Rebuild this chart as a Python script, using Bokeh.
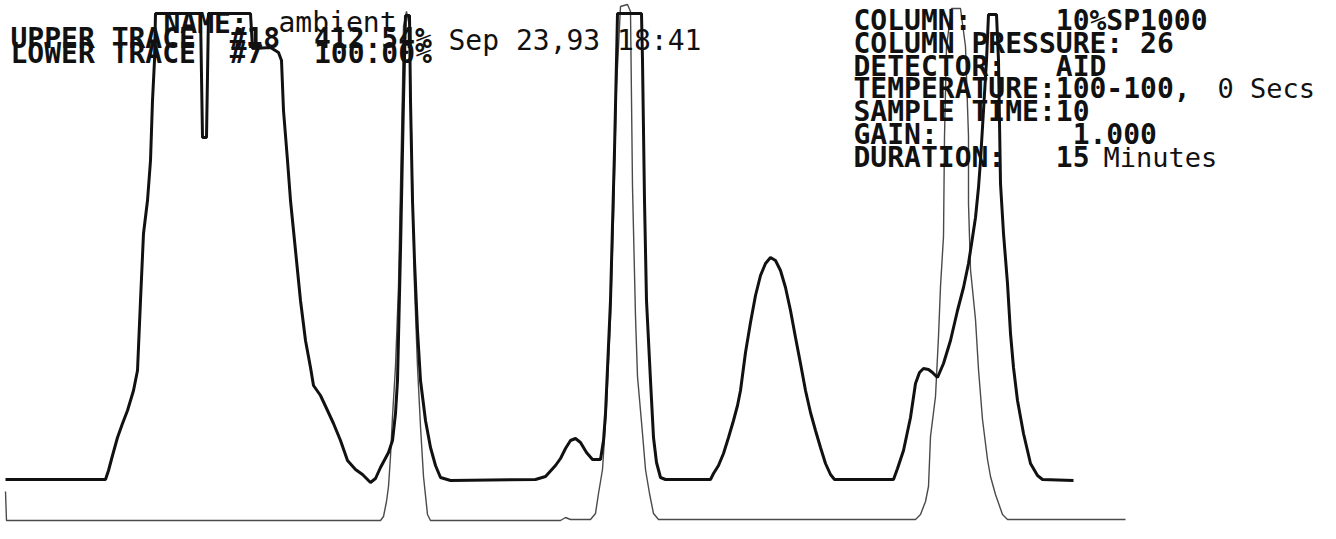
from bokeh.plotting import figure
from bokeh.models import Range1d, ColumnDataSource
from bokeh.core.properties import value
from bokeh.embed import file_html
from bokeh.resources import INLINE

# ---- data ----
# retention axis (chart units), signal = height above own baseline
upper_t = [5, 105, 108, 112, 117, 122, 127, 133, 137, 140, 143, 147, 150, 152, 154, 155,
           200, 202, 206, 208, 250, 252, 270, 278, 281, 283, 287, 290, 295, 300, 305, 310,
           313, 320, 327, 333, 340, 347, 355, 362, 370, 375, 380, 388, 392, 395, 397, 400,
           403, 405, 409, 410, 412, 414, 417, 420, 425, 430, 435, 440, 450, 535, 545, 555,
           560, 565, 570, 575, 580, 586, 592, 600, 603, 605, 610, 614, 616, 617, 641, 642,
           644, 646, 650, 653, 656, 660, 665, 710, 713, 718, 723, 728, 733, 737, 740, 745,
           750, 755, 760, 765, 770, 775, 780, 785, 790, 795, 800, 805, 810, 815, 820, 825,
           830, 834, 893, 897, 903, 910, 915, 919, 923, 928, 932, 937, 943, 950, 957, 963,
           968, 972, 975, 978, 980, 983, 986, 988, 996, 998, 1000, 1003, 1007, 1010, 1013,
           1017, 1023, 1030, 1037, 1042, 1073]
upper_sig = [0, 0, 9, 24, 42, 56, 69, 89, 109, 179, 246, 279, 319, 379, 419, 466,
             466, 342, 342, 466, 466, 431, 432, 427, 419, 369, 319, 279, 229, 179, 139, 112,
             94, 84, 69, 56, 39, 19, 10, 5, -3, 1, 12, 27, 39, 66, 99, 229,
             379, 464, 464, 379, 279, 219, 149, 99, 59, 32, 14, 2, -1, 0, 3, 14,
             21, 31, 39, 41, 37, 27, 20, 20, 39, 66, 179, 329, 419, 466, 466, 419,
             279, 179, 99, 42, 17, 2, 0, 0, 6, 14, 26, 42, 59, 74, 89, 127,
             157, 184, 204, 216, 222, 219, 209, 192, 169, 142, 116, 89, 67, 49, 32, 16,
             5, 0, 0, 11, 29, 62, 96, 107, 111, 110, 107, 102, 116, 139, 169, 192,
             216, 242, 262, 292, 319, 369, 419, 465, 465, 419, 296, 246, 196, 146, 112,
             79, 46, 16, 4, 0, -1]

lower_t = [5, 6, 380, 383, 386, 388, 390, 392, 395, 398, 400, 402, 403, 406, 409, 410,
           412, 414, 417, 420, 423, 427, 430, 560, 565, 570, 590, 595, 598, 602, 606, 610,
           613, 616, 620, 627, 630, 632, 635, 637, 642, 645, 649, 653, 658, 915, 920, 925,
           928, 930, 935, 938, 940, 943, 944, 946, 951, 960, 965, 968, 968, 970, 975, 978,
           982, 987, 990, 995, 1002, 1007, 1125]
lower_sig = [29, 0, 0, 4, 19, 34, 64, 104, 154, 234, 334, 434, 494, 509, 494, 434,
             334, 234, 154, 94, 44, 6, 0, 0, 3, 1, 1, 7, 27, 51, 114, 204,
             304, 434, 514, 516, 509, 334, 204, 144, 87, 51, 27, 7, 1, 1, 6, 19,
             34, 84, 124, 184, 234, 284, 384, 474, 512, 512, 474, 384, 317, 251, 201, 151,
             101, 61, 44, 26, 6, 1, 1]

header_left = ["UPPER TRACE  #18  412.54%", "LOWER TRACE  #7   100.00%", "NAME:"]
header_left_plain = ["ambient", "Sep 23,93 18:41"]
info_lines = ["COLUMN:     10%SP1000", "COLUMN PRESSURE: 26", "DETECTOR:   AID",
              "TEMPERATURE:100-100,", "SAMPLE TIME:10", "GAIN:        1.000",
              "DURATION:   15"]
info_plain = ["0 Secs", "Minutes"]

# ---- layout ----
UPPER_BASE = 60
LOWER_BASE = 19
TOP = 549   # text baseline reference (compensates renderer baseline offset)


def keep_spaces(items):
    return [s.replace(" ", "\u00a0") for s in items]


p = figure(width=1320, height=523, x_range=Range1d(0, 1320), y_range=Range1d(16, 539),
           output_backend="svg", toolbar_location=None, min_border=0)
p.axis.visible = False
p.grid.visible = False
p.outline_line_color = None
p.background_fill_color = "white"
p.border_fill_color = "white"

p.line(lower_t, [s + LOWER_BASE for s in lower_sig], line_color="#4a4a4a", line_width=1.4)
p.line(upper_t, [s + UPPER_BASE for s in upper_sig], line_color="#111111", line_width=3)

mono = value("DejaVu Sans Mono")

src_tall_left = ColumnDataSource(dict(x=[10, 10, 163], y=[TOP - 48, TOP - 63, TOP - 33],
                                      text=keep_spaces(header_left)))
p.text("x", "y", "text", source=src_tall_left, text_font=mono, text_font_size=value("28px"),
       text_font_style="bold", text_color="#111111", text_baseline="alphabetic")

src_plain_left = ColumnDataSource(dict(x=[278, 448], y=[TOP - 32, TOP - 50],
                                       text=keep_spaces(header_left_plain)))
p.text("x", "y", "text", source=src_plain_left, text_font=mono, text_font_size=value("28px"),
       text_color="#111111", text_baseline="alphabetic")

info_y = [TOP - (30 + 22.8 * i) for i in range(len(info_lines))]
src_info = ColumnDataSource(dict(x=[853] * len(info_lines), y=info_y,
                                 text=keep_spaces(info_lines)))
p.text("x", "y", "text", source=src_info, text_font=mono, text_font_size=value("28px"),
       text_font_style="bold", text_color="#111111", text_baseline="alphabetic")

src_info_plain = ColumnDataSource(dict(x=[1217, 1103], y=[info_y[3], info_y[6]],
                                       text=keep_spaces(info_plain)))
p.text("x", "y", "text", source=src_info_plain, text_font=mono, text_font_size=value("27px"),
       text_color="#111111", text_baseline="alphabetic")

open("out.html", "w").write(file_html(p, INLINE))
